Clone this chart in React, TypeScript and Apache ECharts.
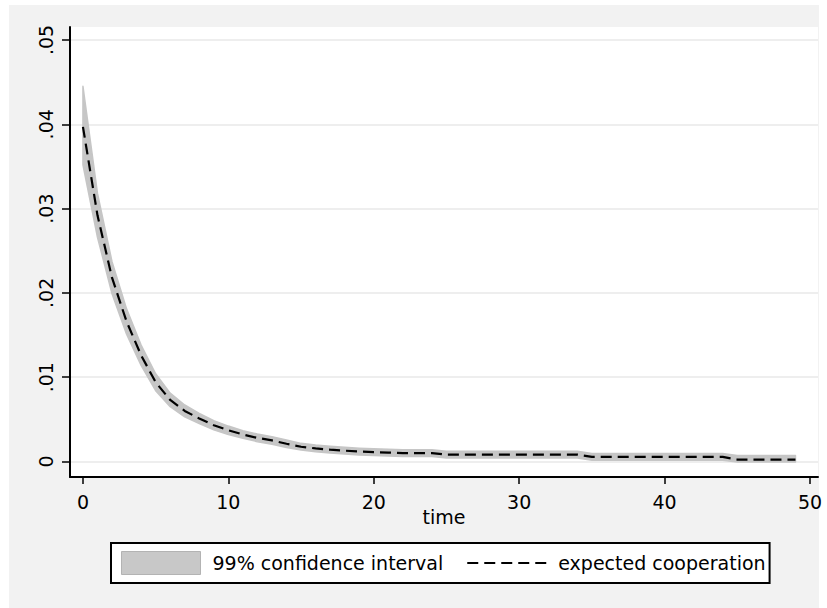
import React, { useEffect, useRef } from "react";
import * as echarts from "echarts";

const time = [
  0, 1, 2, 3, 4, 5, 6, 7, 8, 9, 10, 11, 12, 13, 14, 15, 16, 17, 18, 19, 20, 21, 22, 23, 24,
  25, 26, 27, 28, 29, 30, 31, 32, 33, 34, 35, 36, 37, 38, 39, 40, 41, 42, 43, 44, 45, 46, 47, 48, 49,
];

const expected = [
  0.0397, 0.0292, 0.0218, 0.0166, 0.0126, 0.0094, 0.0073, 0.006, 0.0051, 0.0043,
  0.0037, 0.0032, 0.0028, 0.0025, 0.0021, 0.00175, 0.00155, 0.0014, 0.00128, 0.00118,
  0.0011, 0.00105, 0.001, 0.001, 0.001, 0.00082, 0.00082, 0.00082, 0.00082, 0.00082,
  0.00082, 0.00082, 0.00082, 0.00082, 0.00082, 0.00054, 0.00054, 0.00054, 0.00054, 0.00054,
  0.00054, 0.00054, 0.00054, 0.00054, 0.00054, 0.00023, 0.00023, 0.00023, 0.00023, 0.00023,
];

const ciUpper = [
  0.0445, 0.0318, 0.0237, 0.0181, 0.0138, 0.0104, 0.0081, 0.0067, 0.0057, 0.00485,
  0.0042, 0.00365, 0.00325, 0.00295, 0.00255, 0.00215, 0.00195, 0.0018, 0.00168, 0.00158,
  0.0015, 0.00145, 0.0014, 0.0014, 0.0014, 0.00122, 0.00122, 0.00122, 0.00122, 0.00122,
  0.00122, 0.00122, 0.00122, 0.00122, 0.00122, 0.00095, 0.00095, 0.00095, 0.00095, 0.00095,
  0.00095, 0.00095, 0.00095, 0.00095, 0.00095, 0.0007, 0.0007, 0.0007, 0.0007, 0.0007,
];

const ciLower = [
  0.0352, 0.0266, 0.0199, 0.0151, 0.0114, 0.0084, 0.0065, 0.0053, 0.0045, 0.00375,
  0.0032, 0.00275, 0.00235, 0.00205, 0.00165, 0.00135, 0.00115, 0.001, 0.00088, 0.00078,
  0.0007, 0.00065, 0.0006, 0.0006, 0.0006, 0.00042, 0.00042, 0.00042, 0.00042, 0.00042,
  0.00042, 0.00042, 0.00042, 0.00042, 0.00042, 0.00015, 0.00015, 0.00015, 0.00015, 0.00015,
  0.00015, 0.00015, 0.00015, 0.00015, 0.00015, -0.00005, -0.00005, -0.00005, -0.00005, -0.00005,
];

const xTicks = [0, 10, 20, 30, 40, 50];
const yTicks = [0, 0.01, 0.02, 0.03, 0.04, 0.05];
const yTickLabels = ["0", ".01", ".02", ".03", ".04", ".05"];

const CI_NAME = "99% confidence interval";
const LINE_NAME = "expected cooperation";

export default function App() {
  const ref = useRef<HTMLDivElement>(null);

  useEffect(() => {
    document.body.style.margin = "0";
    const chart = echarts.init(ref.current!, null, { renderer: "svg" });
    const font = "DejaVu Sans";
    const bandColor = "#c6c6c6";

    const bandData = time.map((t, i) => [t, ciLower[i], ciUpper[i]]);

    chart.setOption({
      animation: false,
      backgroundColor: "#ffffff",
      graphic: [
        {
          type: "rect",
          z: -10,
          silent: true,
          shape: { x: 9, y: 5, width: 810, height: 603 },
          style: { fill: "#f2f2f2" },
        },
      ],
      grid: {
        left: 70,
        top: 27,
        right: 9,
        bottom: 131,
        containLabel: false,
        outerBoundsMode: "none",
        show: true,
        backgroundColor: "#ffffff",
        borderWidth: 0,
      },
      legend: {
        show: true,
        left: 111,
        top: 543,
        orient: "horizontal",
        selectedMode: false,
        data: [
          {
            name: CI_NAME,
            icon: "rect",
            itemStyle: { color: "#c8c8c8", borderColor: "#b3b3b3", borderWidth: 1 },
          },
          { name: LINE_NAME, itemStyle: { opacity: 0 } },
        ],
        itemWidth: 79,
        itemHeight: 23,
        itemGap: 23,
        padding: [8, 4, 8, 10],
        backgroundColor: "#ffffff",
        borderColor: "#000000",
        borderWidth: 2,
        borderRadius: 0,
        textStyle: { fontFamily: font, fontSize: 19, color: "#000", padding: [0, 0, 0, 7] },
      },
      xAxis: {
        type: "value",
        min: -0.89,
        max: 50.55,
        name: "time",
        nameLocation: "middle",
        nameGap: 30,
        nameMoveOverlap: false,
        nameTextStyle: { fontFamily: font, fontSize: 19, color: "#000" },
        axisLine: { show: true, onZero: false, lineStyle: { color: "#000", width: 2 } },
        axisTick: {
          show: true,
          length: 7,
          customValues: xTicks,
          lineStyle: { color: "#000", width: 1.5 },
        },
        axisLabel: {
          customValues: xTicks,
          color: "#000",
          fontFamily: font,
          fontSize: 19,
          margin: 15,
        },
        splitLine: { show: false },
      },
      yAxis: {
        type: "value",
        min: -0.00184,
        max: 0.05154,
        axisLine: { show: true, onZero: false, lineStyle: { color: "#000", width: 2 } },
        axisTick: {
          show: true,
          length: 8,
          customValues: yTicks,
          lineStyle: { color: "#000", width: 1.5 },
        },
        axisLabel: {
          customValues: yTicks,
          rotate: 90,
          color: "#000",
          fontFamily: font,
          fontSize: 19,
          margin: 15,
          formatter: (v: number) => {
            const i = yTicks.findIndex((t) => Math.abs(t - v) < 1e-9);
            return i >= 0 ? yTickLabels[i] : "";
          },
        },
        splitLine: { show: true, lineStyle: { color: "#e8e8e8", width: 1.5 } },
      },
      series: [
        {
          type: "custom",
          name: CI_NAME,
          data: bandData,
          encode: { x: 0, y: [1, 2] },
          silent: true,
          itemStyle: { color: bandColor },
          z: 2,
          renderItem: (params: any, api: any) => {
            if (params.dataIndex !== 0) return null;
            const top = bandData.map((d) => api.coord([d[0], d[2]]));
            const bottom = bandData.map((d) => api.coord([d[0], d[1]])).reverse();
            return {
              type: "polygon",
              shape: { points: top.concat(bottom) },
              style: { fill: bandColor, stroke: bandColor, lineWidth: 1.5, lineJoin: "round" },
            };
          },
        },
        {
          type: "line",
          name: LINE_NAME,
          data: time.map((t, i) => [t, expected[i]]),
          symbol: "none",
          silent: true,
          color: "#000",
          lineStyle: { color: "#000", width: 2.2, type: [11, 6] },
          z: 3,
        },
      ],
    });

    return () => {
      chart.dispose();
    };
  }, []);

  return <div ref={ref} style={{ width: 827, height: 608 }} />;
}
